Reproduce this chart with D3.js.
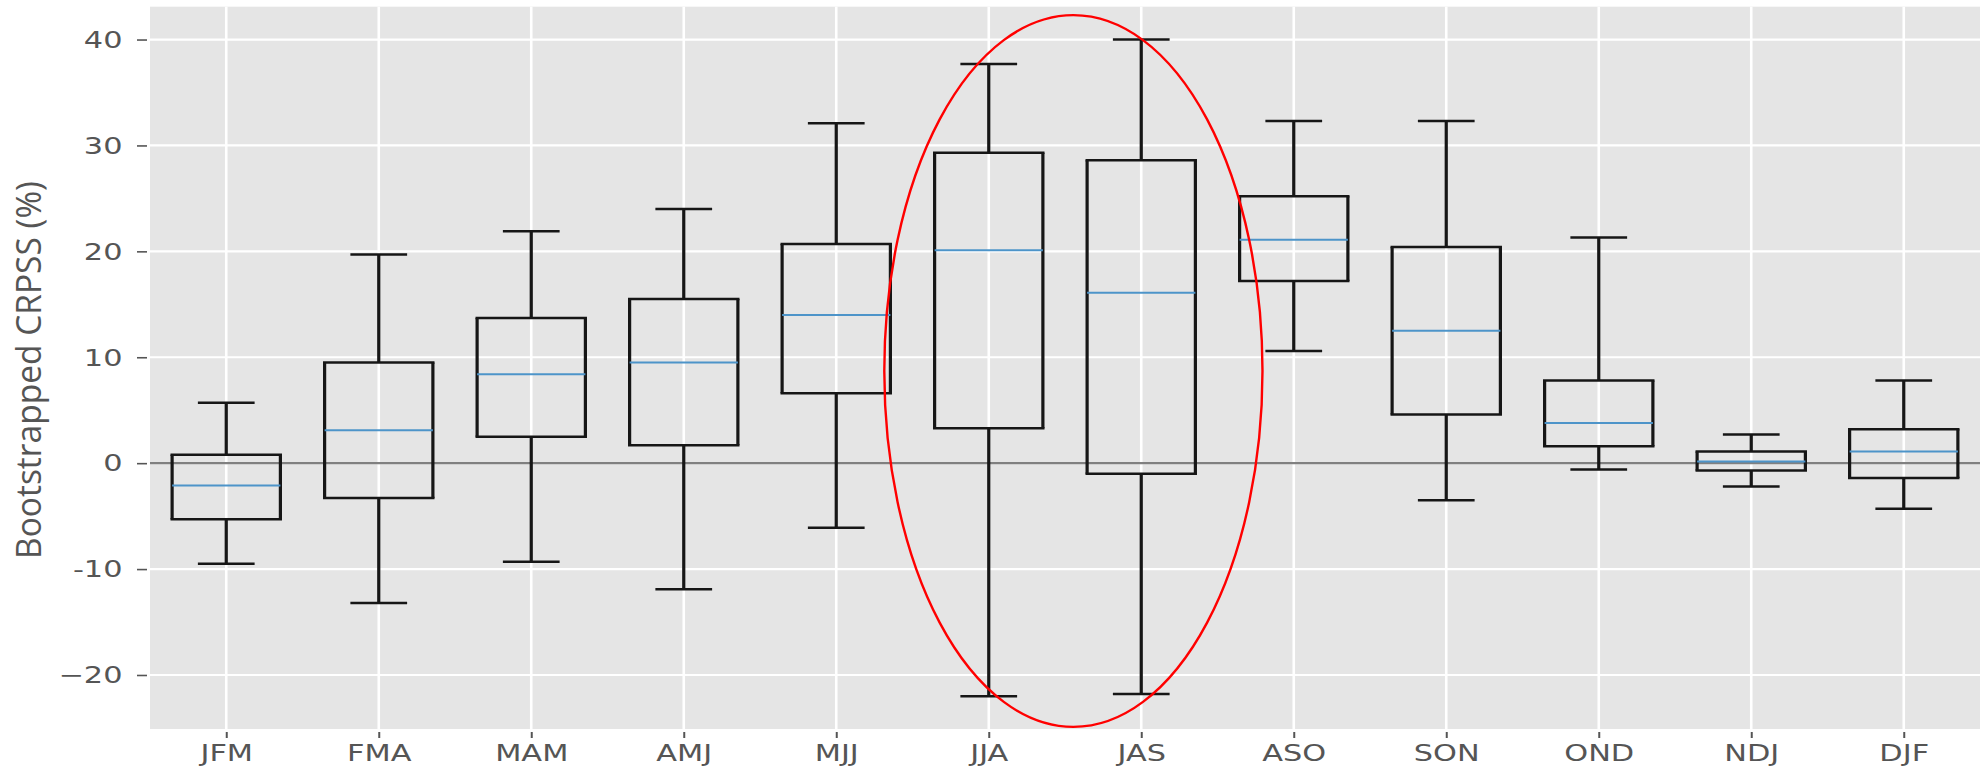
<!DOCTYPE html>
<html>
<head>
<meta charset="utf-8">
<script src="https://cdn.jsdelivr.net/npm/d3@7"></script>
<style>
  html, body { margin: 0; padding: 0; background: #ffffff; }
  svg { display: block; }
</style>
</head>
<body>
<svg id="chart" width="1988" height="770"></svg>
<script>
// Three-month seasons on the x axis
const categories = ["JFM", "FMA", "MAM", "AMJ", "MJJ", "JJA", "JAS", "ASO", "SON", "OND", "NDJ", "DJF"];

// Box-plot statistics of the bootstrapped CRPSS (%) per season
const whiskerLow  = [-9.5, -13.2, -9.3, -11.9, -6.1, -22.0, -21.8, 10.6, -3.5, -0.6, -2.2, -4.3];
const q1          = [-5.3,  -3.3,  2.5,   1.7,  6.6,   3.3,  -1.0, 17.2, 4.6,  1.6, -0.7, -1.4];
const medians     = [-2.1,   3.1,  8.4,   9.5, 14.0,  20.1,  16.1, 21.1, 12.5, 3.8,  0.15, 1.1];
const q3          = [ 0.8,   9.5, 13.7,  15.5, 20.7,  29.3,  28.6, 25.2, 20.4, 7.8,  1.1,  3.2];
const whiskerHigh = [ 5.7,  19.7, 21.9,  24.0, 32.1,  37.7,  40.0, 32.3, 32.3, 21.3, 2.7,  7.8];

// y-axis ticks and their printed labels
const yTickValues = [-20, -10, 0, 10, 20, 30, 40];
const yTickLabels = ["\u221220", "-10", "0", "10", "20", "30", "40"];

// Highlight ellipse around the summer seasons (x in box positions, y in data units)
const highlightCenterPos = 6.555;
const highlightHalfWidth = 1.24;
const highlightTop = 42.3;
const highlightBottom = -24.9;

const svg = d3.select("#chart");
const plot = { left: 150, right: 1980, top: 6.7, bottom: 729 };

// Box positions 1..12 with half a slot of room on each side
const x = d3.scaleLinear()
  .domain([0.5, categories.length + 0.5])
  .range([plot.left, plot.right]);

// y range padded by 5% of the whisker span
const yMin = d3.min(whiskerLow), yMax = d3.max(whiskerHigh);
const pad = (yMax - yMin) * 0.05;
const y = d3.scaleLinear()
  .domain([yMin - pad, yMax + pad])
  .range([plot.bottom, plot.top]);

const slot = x(2) - x(1);
const boxHalf = slot * 0.355;
const capHalf = slot * 0.186;

// Panel background
svg.append("rect")
  .attr("x", plot.left).attr("y", plot.top)
  .attr("width", plot.right - plot.left)
  .attr("height", plot.bottom - plot.top)
  .attr("fill", "#e5e5e5");

// Grid
const grid = svg.append("g");
grid.selectAll("line.h").data(yTickValues).join("line")
  .attr("x1", plot.left).attr("x2", plot.right)
  .attr("y1", d => y(d)).attr("y2", d => y(d))
  .attr("stroke", "#ffffff").attr("stroke-width", 2.2);
grid.selectAll("line.v").data(categories).join("line")
  .attr("x1", (d, i) => x(i + 1)).attr("x2", (d, i) => x(i + 1))
  .attr("y1", plot.top).attr("y2", plot.bottom)
  .attr("stroke", "#ffffff").attr("stroke-width", 2.6);

// Zero reference line
svg.append("line")
  .attr("x1", plot.left).attr("x2", plot.right)
  .attr("y1", y(0)).attr("y2", y(0))
  .attr("stroke", "#808080").attr("stroke-width", 2.2);

// Boxes
const boxes = categories.map((c, i) => ({
  c, pos: i + 1,
  lo: whiskerLow[i], q1: q1[i], med: medians[i], q3: q3[i], hi: whiskerHigh[i]
}));

const g = svg.append("g").attr("stroke", "#161616").attr("fill", "none");
const bx = g.selectAll("g.box").data(boxes).join("g").attr("class", "box");

// whiskers
bx.append("line")
  .attr("x1", d => x(d.pos)).attr("x2", d => x(d.pos))
  .attr("y1", d => y(d.hi)).attr("y2", d => y(d.q3))
  .attr("stroke-width", 3.2);
bx.append("line")
  .attr("x1", d => x(d.pos)).attr("x2", d => x(d.pos))
  .attr("y1", d => y(d.q1)).attr("y2", d => y(d.lo))
  .attr("stroke-width", 3.2);
// caps
bx.append("line")
  .attr("x1", d => x(d.pos) - capHalf).attr("x2", d => x(d.pos) + capHalf)
  .attr("y1", d => y(d.hi)).attr("y2", d => y(d.hi))
  .attr("stroke-width", 2.5);
bx.append("line")
  .attr("x1", d => x(d.pos) - capHalf).attr("x2", d => x(d.pos) + capHalf)
  .attr("y1", d => y(d.lo)).attr("y2", d => y(d.lo))
  .attr("stroke-width", 2.5);
// box outline: horizontal edges
bx.append("line")
  .attr("x1", d => x(d.pos) - boxHalf - 1.6).attr("x2", d => x(d.pos) + boxHalf + 1.6)
  .attr("y1", d => y(d.q3)).attr("y2", d => y(d.q3))
  .attr("stroke-width", 2.5);
bx.append("line")
  .attr("x1", d => x(d.pos) - boxHalf - 1.6).attr("x2", d => x(d.pos) + boxHalf + 1.6)
  .attr("y1", d => y(d.q1)).attr("y2", d => y(d.q1))
  .attr("stroke-width", 2.5);
// box outline: vertical edges
bx.append("line")
  .attr("x1", d => x(d.pos) - boxHalf).attr("x2", d => x(d.pos) - boxHalf)
  .attr("y1", d => y(d.q3)).attr("y2", d => y(d.q1))
  .attr("stroke-width", 3.2);
bx.append("line")
  .attr("x1", d => x(d.pos) + boxHalf).attr("x2", d => x(d.pos) + boxHalf)
  .attr("y1", d => y(d.q3)).attr("y2", d => y(d.q1))
  .attr("stroke-width", 3.2);
// medians
bx.append("line")
  .attr("x1", d => x(d.pos) - boxHalf).attr("x2", d => x(d.pos) + boxHalf)
  .attr("y1", d => y(d.med)).attr("y2", d => y(d.med))
  .attr("stroke", "#4d94c9").attr("stroke-width", 2);

// Axes
const stretch = 1.32;
const yAxis = svg.append("g")
  .attr("transform", `translate(${plot.left - 3},0)`)
  .call(d3.axisLeft(y).tickValues(yTickValues).tickSize(10)
    .tickFormat((d, i) => yTickLabels[i]));
yAxis.select(".domain").remove();
yAxis.selectAll(".tick line").attr("stroke", "#555555").attr("stroke-width", 1.6);
yAxis.selectAll(".tick text")
  .attr("x", null).attr("dy", null).attr("y", 7.8)
  .attr("transform", `translate(-24.5,0) scale(${stretch},1)`)
  .attr("fill", "#555555")
  .style("font-family", "'DejaVu Sans', sans-serif")
  .style("font-size", "23px");

const xAxis = svg.append("g")
  .attr("transform", `translate(0,${plot.bottom + 3})`)
  .call(d3.axisBottom(x).tickValues(d3.range(1, categories.length + 1)).tickSize(6)
    .tickFormat(d => categories[d - 1]));
xAxis.select(".domain").remove();
xAxis.selectAll(".tick line").attr("stroke", "#555555").attr("stroke-width", 2);
xAxis.selectAll(".tick text")
  .attr("dy", null).attr("y", 29)
  .attr("transform", `scale(${stretch},1)`)
  .attr("fill", "#555555")
  .style("font-family", "'DejaVu Sans', sans-serif")
  .style("font-size", "23px");

// y-axis title
svg.append("text")
  .attr("transform", `translate(41,370) rotate(-90)`)
  .attr("text-anchor", "middle")
  .attr("textLength", 378)
  .attr("lengthAdjust", "spacingAndGlyphs")
  .attr("fill", "#555555")
  .style("font-family", "'Open Sans', sans-serif")
  .style("font-size", "34px")
  .text("Bootstrapped CRPSS (%)");

// Highlight ellipse around JJA and JAS
svg.append("ellipse")
  .attr("cx", x(highlightCenterPos))
  .attr("cy", (y(highlightTop) + y(highlightBottom)) / 2)
  .attr("rx", x(highlightCenterPos + highlightHalfWidth) - x(highlightCenterPos))
  .attr("ry", (y(highlightBottom) - y(highlightTop)) / 2)
  .attr("fill", "none")
  .attr("stroke", "#ff0000")
  .attr("stroke-width", 2.4);
</script>
</body>
</html>
